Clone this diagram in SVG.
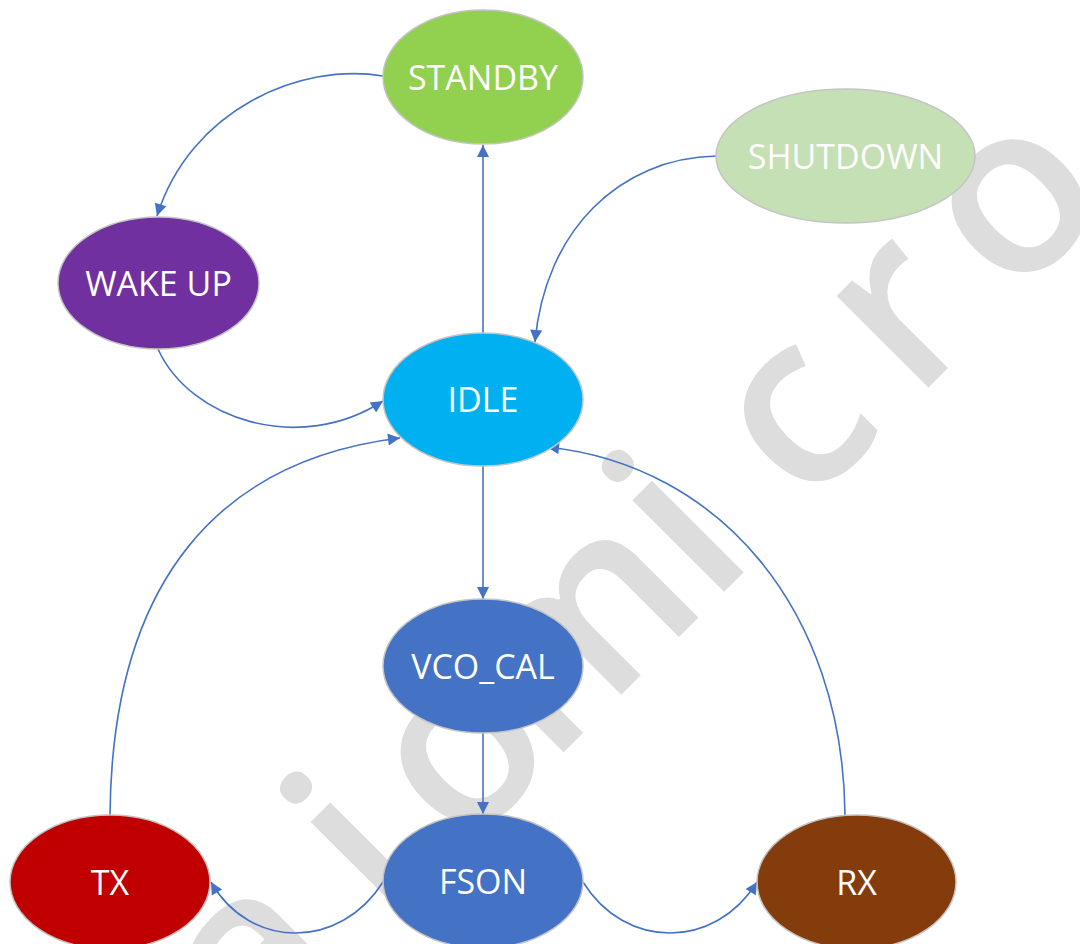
<svg xmlns="http://www.w3.org/2000/svg" width="1080" height="944" viewBox="0 0 1080 944">
  <style>
    .wm { font-family: "Open Sans", "Liberation Sans", sans-serif; font-size: 240px; font-weight: 600; fill: #dddddd; }
    .node ellipse { stroke: #c4c4c4; stroke-width: 1.5; }
    .node text { font-family: "Open Sans", "Liberation Sans", sans-serif; font-size: 34px; fill: #ffffff; text-anchor: middle; }
    .conn path { fill: none; stroke: #4472C4; stroke-width: 1.6; marker-end: url(#ah); }
  </style>
  <defs>
    <marker id="ah" viewBox="0 0 10 10" refX="10" refY="5" markerWidth="15" markerHeight="12" markerUnits="userSpaceOnUse" orient="auto">
      <path d="M0,0 L10,5 L0,10 z" fill="#4472C4"/>
    </marker>
  </defs>
  <rect x="0" y="0" width="1080" height="944" fill="#ffffff"/>

  <g id="watermark">
    <text class="wm" transform="translate(0,1316) rotate(-45)" text-anchor="middle"><tspan x="430" y="0">a</tspan><tspan x="583" y="0">i</tspan><tspan x="726" y="0">o</tspan><tspan x="892" y="0">m</tspan><tspan x="1038" y="0">i</tspan><tspan x="1198" y="0">c</tspan><tspan x="1345" y="0">r</tspan><tspan x="1505" y="0">o</tspan></text>
  </g>

  <g id="connectors" class="conn">
    <path d="M483,333 L483,145"/>
    <path d="M383,76 C300,62 190,110 157,216"/>
    <path d="M716,156 C620,158 545,230 535,342"/>
    <path d="M158,349 C190,420 300,455 383,401"/>
    <path d="M110,815 C112,580 220,460 400,438"/>
    <path d="M845,815 C843,610 720,465 547,447"/>
    <path d="M483,466 L483,599"/>
    <path d="M483,733 L483,814"/>
    <path d="M383,882 C340,950 250,950 211,882"/>
    <path d="M583,882 C625,950 715,950 757,882"/>
  </g>

  <g id="standby" class="node">
    <ellipse cx="483" cy="77" rx="100" ry="67" fill="#92D050"/>
    <text x="483" y="89.5">STANDBY</text>
  </g>
  <g id="shutdown" class="node">
    <ellipse cx="845.5" cy="156" rx="129.5" ry="67" fill="#C5E0B4"/>
    <text x="845.5" y="168.5">SHUTDOWN</text>
  </g>
  <g id="wakeup" class="node">
    <ellipse cx="158.5" cy="283" rx="100.5" ry="66" fill="#7030A0"/>
    <text x="158.5" y="295.5">WAKE UP</text>
  </g>
  <g id="idle" class="node">
    <ellipse cx="483" cy="399.5" rx="100" ry="66.5" fill="#00B0F0"/>
    <text x="483" y="412">IDLE</text>
  </g>
  <g id="vco_cal" class="node">
    <ellipse cx="483" cy="666" rx="100" ry="67" fill="#4472C4"/>
    <text x="483" y="678.5">VCO_CAL</text>
  </g>
  <g id="tx" class="node">
    <ellipse cx="110" cy="882" rx="100" ry="67" fill="#C00000"/>
    <text x="110" y="894.5">TX</text>
  </g>
  <g id="fson" class="node">
    <ellipse cx="483" cy="881" rx="100" ry="67" fill="#4472C4"/>
    <text x="483" y="893.5">FSON</text>
  </g>
  <g id="rx" class="node">
    <ellipse cx="856.5" cy="882" rx="99.5" ry="67" fill="#843C0C"/>
    <text x="856.5" y="894.5">RX</text>
  </g>
</svg>
